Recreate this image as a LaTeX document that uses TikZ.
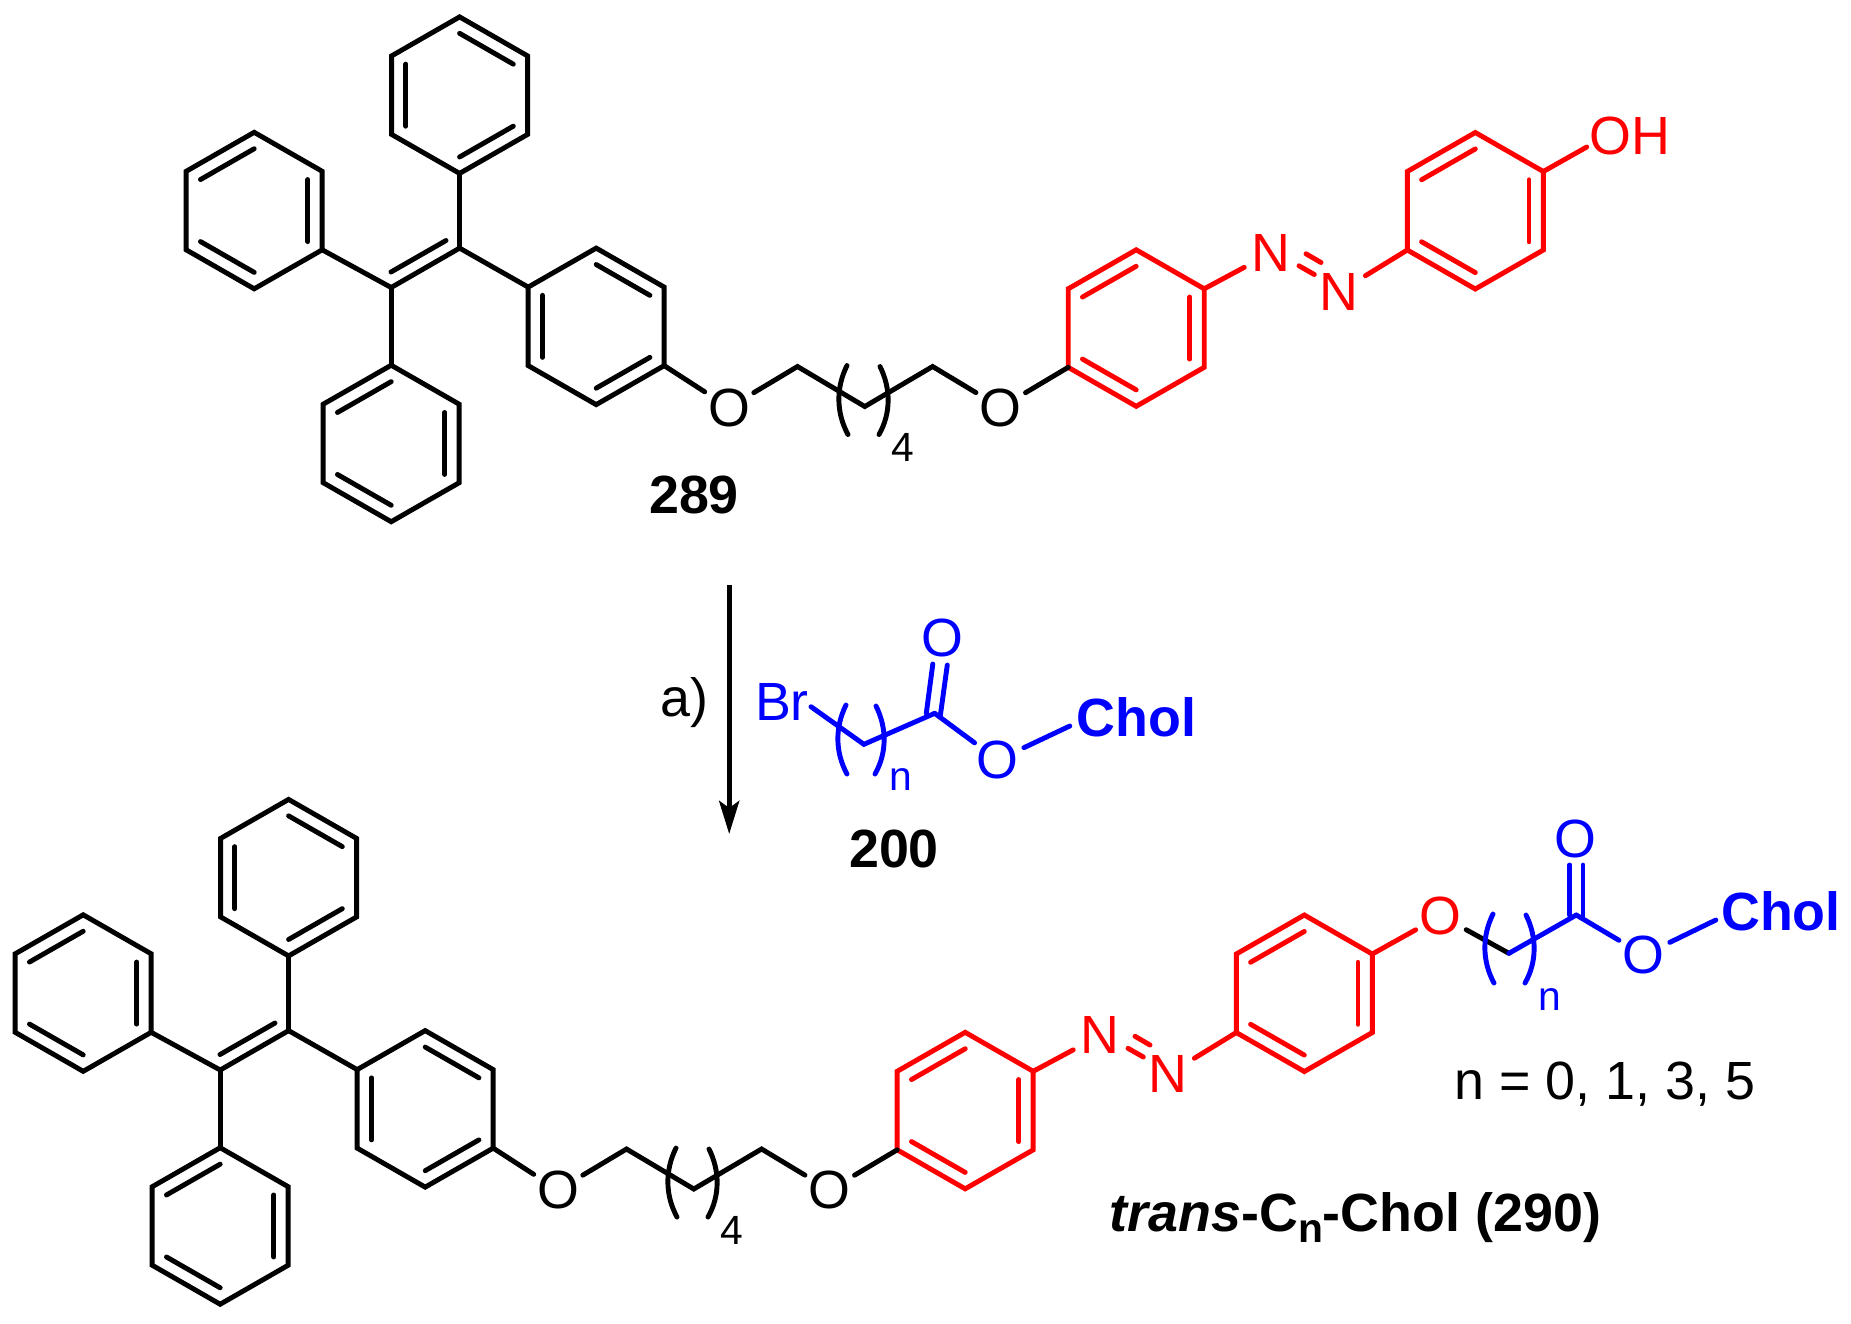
\documentclass[tikz,border=0pt]{standalone}
\usepackage{fontspec}
\setmainfont{Liberation Sans}
\usetikzlibrary{calc,arrows.meta}
\definecolor{cblue}{RGB}{0,0,255}
\definecolor{cred}{RGB}{255,0,0}
\newcommand\fsbig{\fontsize{15.3}{16}\selectfont}
\newcommand\fssub{\fontsize{11.6}{12}\selectfont}
\tikzset{
  bond/.style={line width=1.4pt,line cap=round,line join=miter},
  atom/.style={circle,minimum size=0.56cm,inner sep=0pt,font=\fsbig},
  natom/.style={circle,minimum size=0.6cm,inner sep=0pt,font=\fsbig},
  lbl/.style={inner sep=0pt,font=\fsbig},
  sublbl/.style={inner sep=0pt,font=\fssub},
}
% ring: name, cx, top, colour, pattern (1: 1-2,3-4,5-6 ; 2: 6-1,2-3,4-5)
\newcommand\hexring[5]{%
  \coordinate (#1-1) at ({#2},{#3});
  \coordinate (#1-2) at ({#2+68},{#3+39});
  \coordinate (#1-3) at ({#2+68},{#3+117.5});
  \coordinate (#1-4) at ({#2},{#3+156.5});
  \coordinate (#1-5) at ({#2-68},{#3+117.5});
  \coordinate (#1-6) at ({#2-68},{#3+39});
  \coordinate (#1-c) at ({#2},{#3+78.25});
  \draw[bond,#4] (#1-1) -- (#1-2) -- (#1-3) -- (#1-4) -- (#1-5) -- (#1-6) -- cycle;
  \ifnum#5=1
    \innerbond{#1}{1}{2}{#4}\innerbond{#1}{3}{4}{#4}\innerbond{#1}{5}{6}{#4}
  \else
    \innerbond{#1}{6}{1}{#4}\innerbond{#1}{2}{3}{#4}\innerbond{#1}{4}{5}{#4}
  \fi
}
\newcommand\innerbond[4]{%
  \draw[bond,#4] ($(#1-#2)!0.21!(#1-c)$) -- ($(#1-#3)!0.21!(#1-c)$);
}
% paren pair: colour, left x, right x, top y
\newcommand\parens[4]{%
  \draw[bond,#1] ({#2+10},{#4}) .. controls ({#2-1},{#4+22}) and ({#2-1},{#4+47}) .. ({#2+11},{#4+69});
  \draw[bond,#1] ({#3-10},{#4+1}) .. controls ({#3+1},{#4+23}) and ({#3+1},{#4+48}) .. ({#3-11},{#4+69});
}
% the shared backbone of 289 and 290
\newcommand\backbone[1]{%
  \hexring{#1A}{459.6}{15.4}{black}{1}
  \hexring{#1B}{254.2}{130.8}{black}{2}
  \hexring{#1C}{391.2}{363.7}{black}{2}
  \hexring{#1D}{596.2}{246.6}{black}{1}
  \coordinate (#1v1) at (459.6,246.6);
  \coordinate (#1v2) at (391.2,286);
  \coordinate (#1v1i) at (446,239);
  \coordinate (#1v2i) at (391,270.5);
  \draw[bond] (#1v1) -- (#1v2);
  \draw[bond] (#1v1i) -- (#1v2i);
  \draw[bond] (#1A-4) -- (#1v1);
  \draw[bond] (#1v1) -- (#1D-6);
  \draw[bond] (#1v2) -- (#1B-3);
  \draw[bond] (#1v2) -- (#1C-1);
  \node[atom] (#1O1) at (729,406) {O};
  \node[atom] (#1O2) at (1000.7,406) {O};
  \coordinate (#1c1) at (797.5,365);
  \coordinate (#1c2) at (864.8,405);
  \coordinate (#1c3) at (932.6,365);
  \draw[bond] (#1D-3) -- (#1O1);
  \draw[bond] (#1O1) -- (#1c1) -- (#1c2) -- (#1c3) -- (#1O2);
  \parens{black}{837}{890}{364}
  \node[sublbl,anchor=base] (#1four) at (902.7,460) {4};
  \hexring{#1E}{1136.2}{248.3}{cred}{2}
  \draw[bond] (#1O2) -- (#1E-5);
  \node[natom,text=cred] (#1N1) at (1271.3,251.3) {N};
  \node[natom,text=cred] (#1N2) at (1339.2,290.3) {N};
  \draw[bond,cred] (#1E-2) -- (#1N1);
  \coordinate (#1na) at (1299,264.3);
  \coordinate (#1nb) at (1314.3,273);
  \coordinate (#1nc) at (1306,252.3);
  \coordinate (#1nd) at (1321,261);
  \draw[bond,cred] (#1na) -- (#1nb);
  \draw[bond,cred] (#1nc) -- (#1nd);
  \hexring{#1F}{1475.3}{131}{cred}{2}
  \draw[bond,cred] (#1N2) -- (#1F-5);
}
\begin{document}
\begin{tikzpicture}[x=0.01cm,y=-0.01cm]
\useasboundingbox (0,0) rectangle (1851,1323);

% ---- compound 289
\begin{scope}[shift={(0,1.5)}]
\backbone{u}
\end{scope}
\node[lbl,text=cred] (uOH) at (1629.5,135.5) {OH};
\coordinate (uOHa) at (1586.7,147);
\draw[bond,cred] (uF-2) -- (uOHa);
\node[lbl,font=\fsbig\bfseries,anchor=base] (n289) at (694,513) {289};

% ---- reaction arrow
\coordinate (arrA) at (729.2,585);
\coordinate (arrB) at (729.2,834);
\draw[line width=1.5pt,-{Stealth[length=0.33cm,width=0.2cm,inset=0.07cm]}] (arrA) -- (arrB);
\node[lbl,anchor=base] (cond) at (684,716) {a)};

% ---- reagent 200
\node[lbl,text=cblue,anchor=base] (Br) at (782,720.7) {Br};
\coordinate (BrA) at (811,706.7);
\coordinate (r1) at (863.9,744.3);
\coordinate (r2) at (934.7,713.3);
\draw[bond,cblue] (BrA) -- (r1) -- (r2);
\coordinate (r3) at (926.3,713.3);
\coordinate (r4) at (940.4,715);
\coordinate (r5) at (932.8,664);
\coordinate (r6) at (947.3,665);
\draw[bond,cblue] (r3) -- (r5);
\draw[bond,cblue] (r4) -- (r6);
\node[atom,text=cblue] (rO1) at (942.3,638) {O};
\node[atom,text=cblue] (rO2) at (997.8,760) {O};
\draw[bond,cblue] (r2) -- (rO2);
\node[lbl,font=\fsbig\bfseries,text=cblue,anchor=base west] (rChol) at (1076,736) {Chol};
\coordinate (rCholA) at (1069.8,726);
\draw[bond,cblue] (rO2) -- (rCholA);
\parens{cblue}{836}{886}{705}
\node[sublbl,text=cblue,anchor=base] (rn) at (901,790) {n};
\node[lbl,font=\fsbig\bfseries,anchor=base] (n200) at (894,867) {200};

% ---- compound 290
\begin{scope}[shift={(-171,784)}]
\backbone{l}
\end{scope}
\node[atom,text=cred] (lO3) at (1440.9,915.7) {O};
\draw[bond,cred] (lF-2) -- (lO3);
\coordinate (k1) at (1508.9,953.3);
\coordinate (k2) at (1576.3,915);
\draw[bond] (lO3) -- (k1);
\draw[bond,cblue] (k1) -- (k2);
\parens{cblue}{1483}{1536}{914}
\node[sublbl,text=cblue,anchor=base] (kn) at (1549.7,1010.7) {n};
\coordinate (k3) at (1569.7,915);
\coordinate (k4) at (1583,916.7);
\coordinate (k5) at (1569.7,865);
\coordinate (k6) at (1583,865);
\draw[bond,cblue] (k3) -- (k5);
\draw[bond,cblue] (k4) -- (k6);
\node[atom,text=cblue] (kO1) at (1575.3,838.5) {O};
\node[atom,text=cblue] (kO2) at (1643.8,955) {O};
\draw[bond,cblue] (k2) -- (kO2);
\node[lbl,font=\fsbig\bfseries,text=cblue,anchor=base west] (kChol) at (1720.5,930) {Chol};
\coordinate (kCholA) at (1715.8,920);
\draw[bond,cblue] (kO2) -- (kCholA);
\node[lbl,anchor=base west] (nvals) at (1454,1099) {n = 0, 1, 3, 5};
\node[lbl,font=\fsbig\bfseries,anchor=base west] (n290) at (1109,1231) {\textit{trans}-C\raisebox{-0.22em}{\fssub n}-Chol (290)};
\end{tikzpicture}
\end{document}
